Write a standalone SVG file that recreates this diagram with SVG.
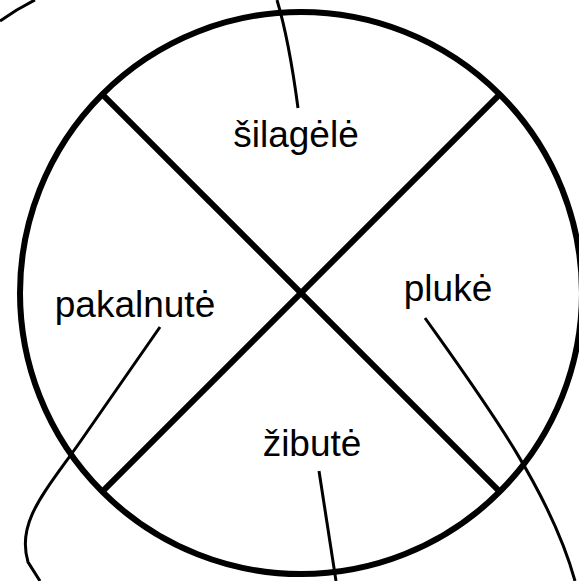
<svg xmlns="http://www.w3.org/2000/svg" width="579" height="581" viewBox="0 0 579 581">
<style>
.thick{fill:none;stroke:#000;stroke-width:6}
.thin{fill:none;stroke:#000;stroke-width:3}
.lbl{font-family:"Liberation Sans",Arial,sans-serif;font-size:37px;fill:#000;text-anchor:middle}
</style>
<rect width="579" height="581" fill="#fff"/>
<g id="wheel">
<circle class="thick" cx="301" cy="293" r="281"/>
<line class="thick" x1="102.3" y1="94.3" x2="499.7" y2="491.7"/>
<line class="thick" x1="499.7" y1="94.3" x2="102.3" y2="491.7"/>
</g>
<g id="connectors">
<path class="thin" d="M298,108 Q289,40 277,0"/>
<path class="thin" d="M0,21 Q17,9 35,0"/>
<path class="thin" d="M160,327 L80,442 C45,492 16,522 28,562 L40,581"/>
<path class="thin" d="M425,318 C482,398 550,490 575,581"/>
<path class="thin" d="M319,471 L336,581"/>
</g>
<g id="node-silagele"><text class="lbl" x="296" y="147">šilagėlė</text></g>
<g id="node-pakalnute"><text class="lbl" x="135" y="317">pakalnutė</text></g>
<g id="node-pluke"><text class="lbl" x="448" y="301">plukė</text></g>
<g id="node-zibute"><text class="lbl" x="312" y="456">žibutė</text></g>
</svg>
